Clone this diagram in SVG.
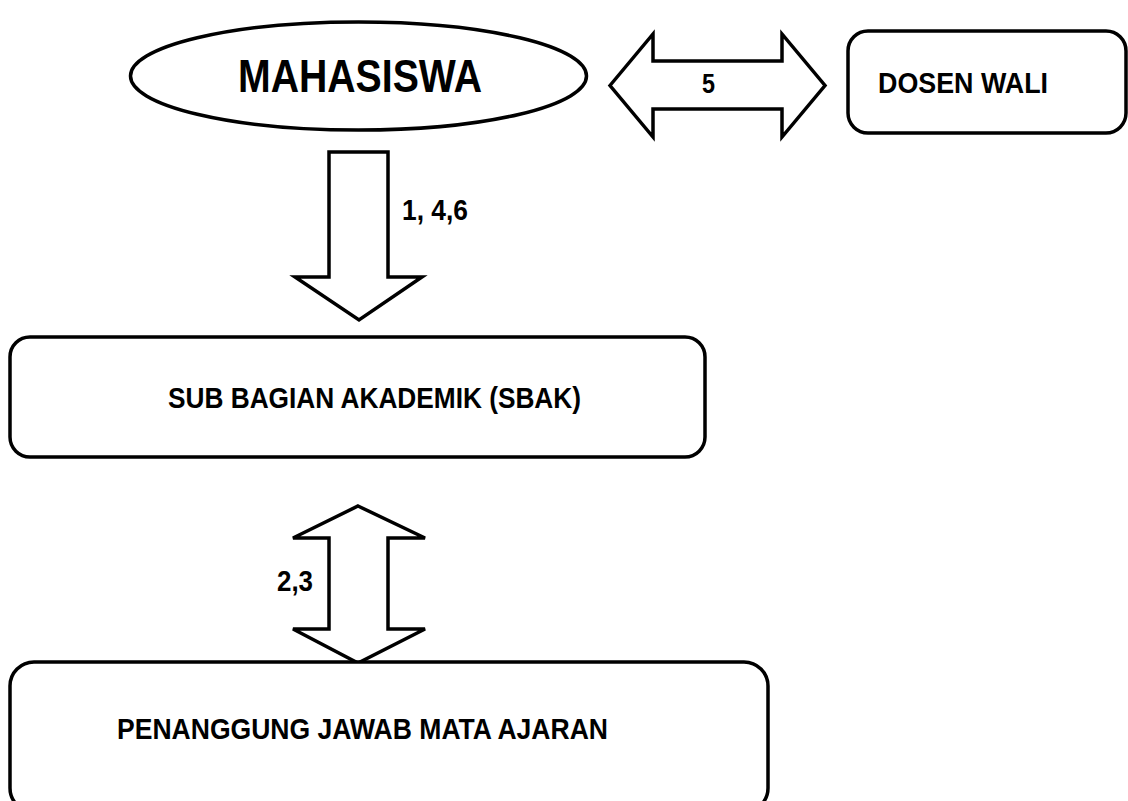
<svg xmlns="http://www.w3.org/2000/svg" width="1128" height="801" viewBox="0 0 1128 801">
  <style>
    .shape { fill: #ffffff; stroke: #000000; stroke-width: 3.5; stroke-linejoin: miter; }
    .box { fill: #ffffff; stroke: #000000; stroke-width: 3.5; }
    .label { font-family: "Liberation Sans", Arial, sans-serif; font-weight: bold; fill: #000000; }
  </style>
  <rect width="1128" height="801" fill="#ffffff"/>

  <!-- connectors: block arrows between the units -->
  <g id="connectors">
    <!-- MAHASISWA <-> DOSEN WALI -->
    <polygon class="shape" points="610,85.5 653,34 653,61 782,61 782,34 825,85.5 782,137 782,109 653,109 653,137"/>
    <text class="label" x="702" y="93" font-size="28" textLength="13" lengthAdjust="spacingAndGlyphs">5</text>
    <!-- MAHASISWA -> SBAK -->
    <polygon class="shape" points="329,152 388,152 388,277 422,277 359,320 295,277 329,277"/>
    <text class="label" x="402" y="220" font-size="29" textLength="66" lengthAdjust="spacingAndGlyphs">1, 4,6</text>
    <!-- SBAK <-> PENANGGUNG JAWAB -->
    <polygon class="shape" points="358,506 425,538 388,538 388,629 425,629 358,663 293,629 329,629 329,538 293,538"/>
    <text class="label" x="277" y="591" font-size="30" textLength="36" lengthAdjust="spacingAndGlyphs">2,3</text>
  </g>

  <g id="mahasiswa">
    <ellipse class="box" cx="358.5" cy="76" rx="228" ry="54"/>
    <text class="label" x="238" y="92" font-size="46" textLength="244" lengthAdjust="spacingAndGlyphs">MAHASISWA</text>
  </g>

  <g id="dosen-wali">
    <rect class="box" x="848" y="31" width="278" height="102" rx="20" ry="20"/>
    <text class="label" x="878" y="93" font-size="29" textLength="170" lengthAdjust="spacingAndGlyphs">DOSEN WALI</text>
  </g>

  <g id="sbak">
    <rect class="box" x="10" y="337" width="695" height="120" rx="20" ry="20"/>
    <text class="label" x="168" y="408" font-size="30" textLength="413" lengthAdjust="spacingAndGlyphs">SUB BAGIAN AKADEMIK (SBAK)</text>
  </g>

  <g id="penanggung-jawab">
    <rect class="box" x="10" y="662" width="758" height="150" rx="24" ry="24"/>
    <text class="label" x="117" y="739" font-size="30" textLength="491" lengthAdjust="spacingAndGlyphs">PENANGGUNG JAWAB MATA AJARAN</text>
  </g>
</svg>
